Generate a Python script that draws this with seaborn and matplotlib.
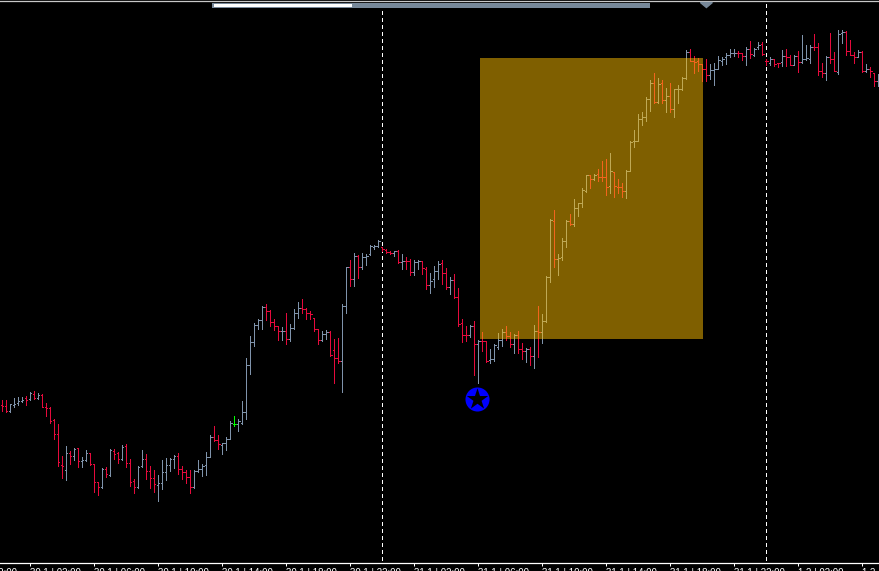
import matplotlib
matplotlib.use('Agg')
from matplotlib import pyplot as plt
from matplotlib.patches import Rectangle
import seaborn as sns
import pandas as pd

sns.set_style('dark', {'axes.facecolor': 'black', 'figure.facecolor': 'black'})
plt.rcParams['font.family'] = ['Liberation Sans', 'DejaVu Sans']

# chart has no price scale, so prices are read in picture height units (axis runs top down)
high = [400,400,404,398,397,397,396,392,391,393,394,403,407,419,424,456,446,451,448,448,
        457,450,453,464,482,468,467,449,449,452,445,444,459,479,466,450,454,466,470,475,
        460,458,458,455,453,466,470,470,470,460,464,452,435,426,435,443,437,421,416,419,
        401,358,336,323,319,306,304,310,319,326,327,313,324,309,302,299,308,311,318,329,
        331,330,331,339,338,304,267,260,253,255,253,254,245,245,240,247,249,251,251,250,
        254,257,259,260,260,261,267,273,266,261,260,268,277,274,288,319,326,325,321,340,
        332,342,349,344,333,329,326,332,334,331,343,348,347,325,306,314,276,219,210,254,
        238,220,214,199,203,188,175,175,174,169,161,159,153,172,179,183,170,141,130,114,
        112,97,80,73,78,80,88,83,89,85,77,50,49,56,58,64,59,64,63,56,
        57,53,49,49,51,53,47,41,48,42,42,59,57,59,63,50,49,55,55,51,
        35,45,45,34,43,63,56,33,52,30,30,31,40,52,50,51,64,67,73,74]
low = [411,412,412,407,405,402,405,400,399,399,407,416,423,439,466,478,480,464,460,467,
       467,461,465,492,495,488,477,476,459,463,460,467,486,493,488,467,479,488,492,501,
       489,480,471,468,474,479,483,493,488,472,476,475,457,441,449,454,450,439,426,431,
       424,419,374,346,329,329,320,326,330,340,340,344,341,329,318,313,319,319,331,344,
       341,339,356,383,363,392,313,286,286,278,269,265,255,249,247,251,253,254,256,263,
       269,269,275,275,269,274,289,293,287,279,284,289,294,298,326,342,341,337,375,383,
       351,362,363,361,349,346,340,347,353,353,359,362,365,368,357,343,322,282,267,275,
       260,247,225,226,216,207,192,188,180,181,181,195,193,197,193,197,198,171,147,141,
       125,121,111,103,103,103,112,112,117,103,90,79,61,73,71,81,81,79,85,69,
       65,64,57,56,57,60,65,58,56,49,55,65,65,66,67,66,66,65,65,72,
       63,60,63,50,75,77,80,63,71,74,43,55,55,63,57,72,72,77,86,86]
open_ = [405,406,411,405,403,401,398,399,394,398,395,407,408,420,434,465,470,453,456,448,
         461,460,453,464,482,487,469,475,451,453,459,446,463,481,487,466,459,471,478,485,
         483,472,465,459,456,469,472,477,487,471,469,465,457,437,440,445,443,439,424,424,
         423,412,365,342,325,320,307,311,322,326,331,331,339,328,313,308,309,313,318,329,
         340,334,332,350,358,361,306,267,279,256,267,257,254,247,246,247,250,252,253,251,
         262,261,261,272,262,261,269,285,279,271,263,273,287,280,297,323,335,335,326,344,
         341,341,360,359,347,340,332,336,344,335,349,351,349,356,331,332,321,277,221,259,
         257,241,221,224,208,203,191,175,179,174,177,177,186,172,187,187,191,171,141,141,
         119,117,99,83,102,83,100,96,109,89,89,78,52,61,61,64,69,75,70,69,
         61,57,55,53,53,53,56,49,55,47,44,61,63,59,63,62,56,57,65,56,
         62,59,59,47,47,71,73,57,59,72,33,32,51,55,57,52,71,69,73,81]
close = [406,411,404,404,401,400,400,393,398,395,407,408,421,434,462,466,453,456,449,461,
         460,453,464,482,487,469,474,450,454,459,447,463,482,487,467,459,471,478,484,483,
         472,465,459,456,469,472,477,487,471,469,466,457,437,440,444,443,439,423,424,421,
         412,365,342,325,320,307,311,322,326,331,331,339,328,313,308,309,313,314,329,340,
         334,332,355,358,361,306,267,279,256,267,257,256,246,246,241,249,252,253,251,262,
         261,261,272,262,261,268,285,281,271,264,273,287,280,297,324,335,335,326,344,341,
         341,361,359,345,340,332,336,344,335,349,351,349,356,331,332,321,277,220,259,258,
         241,221,224,208,203,190,175,179,175,177,177,187,171,186,187,191,171,142,141,119,
         117,99,83,102,84,100,96,109,89,89,78,52,61,62,64,69,75,70,69,60,
         59,55,53,53,53,56,49,54,49,45,54,61,59,64,63,56,57,65,56,62,
         59,58,47,47,71,73,57,59,71,34,32,51,55,57,52,71,69,71,81,75]

red_bars = [0,1,6,8,10,11,12,13,14,15,17,19,22,23,24,26,28,29,31,32,33,36,37,38,44,45,46,47,53,54,
            66,67,68,69,71,75,76,77,78,79,82,83,84,87,89,95,96,97,99,101,102,105,106,110,111,
            113,114,115,116,118,120,121,126,127,129,130,132,134,138,142,147,149,150,151,153,154,155,
            163,165,167,172,173,174,175,176,184,185,187,190,191,193,194,196,197,199,203,204,205,
            207,208,211,212,213,215,217,218]
green_bars = [58]

tick_bars = [-9,7,23,39,55,71,87,103,119,135,151,167,183,199,215]
tick_labels = ['29.1 | 22:00','30.1 | 02:00','30.1 | 06:00','30.1 | 10:00','30.1 | 14:00','30.1 | 18:00',
               '30.1 | 22:00','31.1 | 02:00','31.1 | 06:00','31.1 | 10:00','31.1 | 14:00','31.1 | 18:00',
               '31.1 | 22:00','1.2 | 02:00','1.2 | 06:00']
day_breaks = [95,191]
signal_bar = 118.8
signal_price = 399
zone_bars = [119.5,175.25]
zone_prices = [58,339]

kinds = ['down' if i in red_bars else 'flat' if i in green_bars else 'up' for i in range(len(high))]
palette = {'up': '#7f93ab', 'down': '#e60a3c', 'flat': '#00ff00'}

stems = pd.DataFrame({
    'bar': list(range(len(high))) * 2,
    'price': high + low,
    'kind': kinds * 2,
})

fig = plt.figure(figsize=(8.795, 5.715), dpi=100)
ax = fig.add_axes([0, 0, 1, 1])

sns.lineplot(data=stems, x='bar', y='price', hue='kind', units='bar', estimator=None, palette=palette,
             linewidth=0.72, legend=False, ax=ax, antialiased=False, zorder=3)

for i in range(len(high)):
    c = palette[kinds[i]]
    ax.hlines(open_[i], i - 0.35, i, color=c, linewidth=0.5, zorder=3, antialiased=False)
    ax.hlines(close[i], i, i + 0.35, color=c, linewidth=0.5, zorder=3, antialiased=False)

ax.add_patch(Rectangle((zone_bars[0], zone_prices[0]), zone_bars[1] - zone_bars[0], zone_prices[1] - zone_prices[0],
                       facecolor='#ffbf00', alpha=0.5, edgecolor='none', zorder=4))

for b in day_breaks:
    ax.plot([b, b], [4, 563], color='white', linewidth=0.72, linestyle=(0, (3.2, 3)), zorder=2, antialiased=False)

sns.scatterplot(x=[signal_bar], y=[signal_price], color='#0000ff', s=300, linewidth=0, ax=ax, zorder=5)
sns.scatterplot(x=[signal_bar], y=[signal_price], color='black', marker='*', s=260, linewidth=0, ax=ax, zorder=6)

# scroll bar and marker along the top edge
ax.add_patch(Rectangle((52.5, 3), 109.5, 5, facecolor='#778899', edgecolor='none', zorder=5))
ax.add_patch(Rectangle((53, 4), 34.5, 3, facecolor='white', edgecolor='none', zorder=6))
ax.fill([174.5, 177.5, 176], [3, 3, 8], color='#778899', zorder=5)

ax.set_xlim(-0.5, 219.25)
ax.set_ylim(571, 0)
ax.set_xlabel('')
ax.set_ylabel('')
ax.grid(False)
ax.set_yticks([])
ax.set_xticks([t for t in tick_bars if t >= 0])
ax.set_xticklabels([])
ax.tick_params(axis='x', direction='out', length=2.4, width=0.72, color='white', bottom=True)

for s in ['left', 'right']:
    ax.spines[s].set_visible(False)
ax.spines['bottom'].set_position(('data', 563.5))
ax.spines['bottom'].set_color('white')
ax.spines['bottom'].set_linewidth(0.9)
ax.spines['top'].set_position(('data', 1.5))
ax.spines['top'].set_color('#c8c8c8')
ax.spines['top'].set_linewidth(0.9)

for t, lab in zip(tick_bars, tick_labels):
    ax.text(t, 568, lab, color='white', fontsize=7, ha='left', va='top', clip_on=False)

fig.savefig('out.png', dpi=100, facecolor='black')
